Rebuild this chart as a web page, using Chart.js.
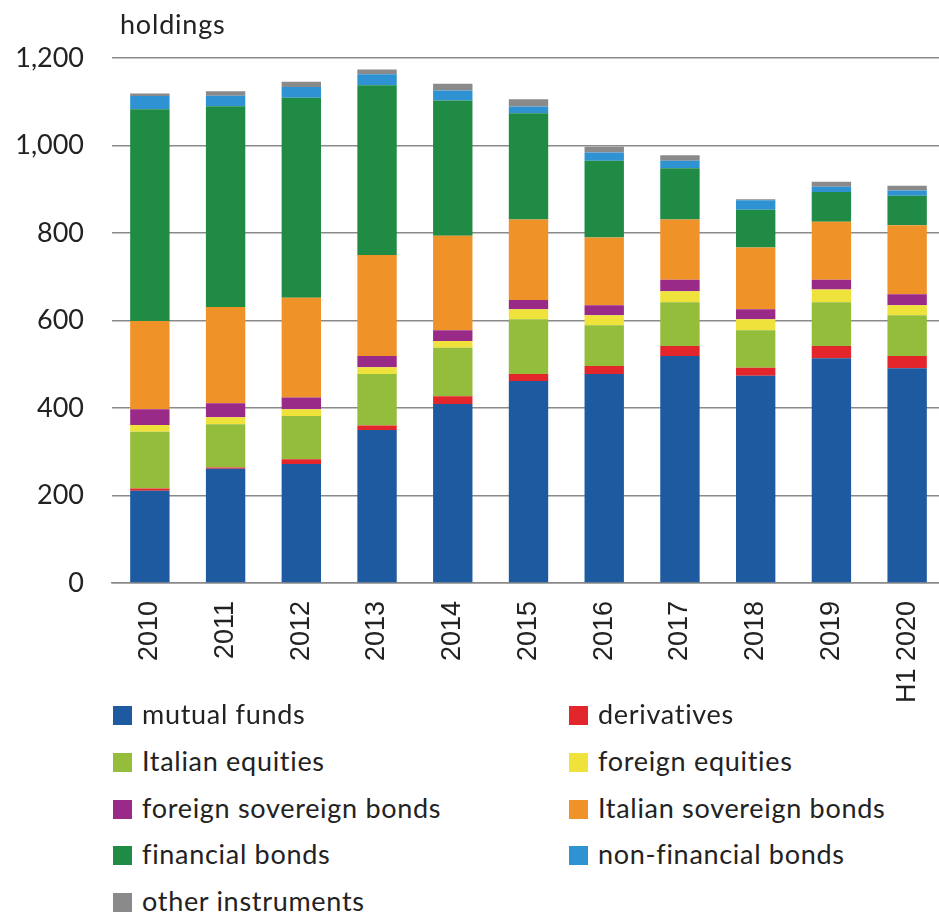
<!DOCTYPE html>
<html>
<head>
<meta charset="utf-8">
<script src="https://cdn.jsdelivr.net/npm/chart.js@4.4.1/dist/chart.umd.min.js"></script>
<style>
  html, body { margin: 0; padding: 0; background: #fff; overflow: hidden; }
  #wrap { position: relative; width: 939px; height: 913px; overflow: hidden; }
  #chart { position: absolute; left: 0; top: 0; }
  #legend { position: absolute; left: 0; top: 0; font-family: Lato, "Noto Sans", sans-serif; font-size: 27px; letter-spacing: 0.7px; color: #222; }
  .item { position: absolute; height: 30px; line-height: 30px; white-space: nowrap; }
  .item span.box { display: inline-block; width: 19px; height: 19px; vertical-align: middle; margin-right: 10px; position: relative; top: -2px; }
</style>
</head>
<body>
<div id="wrap">
  <canvas id="chart" width="950" height="710"></canvas>
  <div id="legend"></div>
</div>
<script>
const years = ['2010', '2011', '2012', '2013', '2014', '2015', '2016', '2017', '2018', '2019', 'H1 2020'];

// holdings by instrument, stacked from the bottom up
const mutualFunds      = [211, 261, 272, 350, 409, 462, 478, 519, 474, 514, 491];
const derivatives      = [5, 3, 11, 10, 18, 16, 18, 23, 18, 28, 28];
const italianEquities  = [130, 99, 99, 118, 111, 125, 93, 100, 86, 100, 93];
const foreignEquities  = [15, 16, 15, 15, 15, 23, 23, 25, 25, 29, 23];
const foreignSovereign = [36, 32, 27, 26, 25, 21, 23, 26, 23, 22, 25];
const italianSovereign = [202, 220, 228, 231, 216, 184, 155, 138, 141, 133, 158];
const financialBonds   = [484, 459, 457, 388, 309, 243, 175, 117, 86, 68, 67];
const nonFinancial     = [30, 24, 25, 25, 23, 15, 19, 17, 22, 12, 12];
const otherInstruments = [6, 10, 12, 11, 15, 17, 13, 13, 2, 11, 11];

const series = [
    { label: 'mutual funds', data: mutualFunds, color: '#1d5aa0' },
    { label: 'derivatives', data: derivatives, color: '#e2262b' },
    { label: 'Italian equities', data: italianEquities, color: '#93bd3b' },
    { label: 'foreign equities', data: foreignEquities, color: '#efe23a' },
    { label: 'foreign sovereign bonds', data: foreignSovereign, color: '#9a2a88' },
    { label: 'Italian sovereign bonds', data: italianSovereign, color: '#ef9228' },
    { label: 'financial bonds', data: financialBonds, color: '#1f8b45' },
    { label: 'non-financial bonds', data: nonFinancial, color: '#2f93d3' },
    { label: 'other instruments', data: otherInstruments, color: '#8a8a8a' }
];

// "holdings" unit label above the y axis
const unitLabel = {
    id: 'unitLabel',
    afterDraw(chart) {
        const ctx = chart.ctx;
        ctx.save();
        ctx.font = '27px Lato, "Noto Sans", sans-serif';
        ctx.letterSpacing = '0.8px';
        ctx.fillStyle = '#222';
        ctx.textAlign = 'left';
        ctx.textBaseline = 'alphabetic';
        ctx.fillText('holdings', 120, 34);
        ctx.restore();
    }
};

const chart = new Chart(document.getElementById('chart'), {
    type: 'bar',
    data: {
        labels: years,
        datasets: series.map(s => ({
            label: s.label,
            data: s.data,
            backgroundColor: s.color,
            borderWidth: 0,
            categoryPercentage: 1,
            barPercentage: 0.52
        }))
    },
    options: {
        responsive: false,
        animation: false,
        layout: { padding: { top: 58, right: 5, left: 0, bottom: 0 } },
        plugins: {
            legend: { display: false },
            tooltip: { enabled: false }
        },
        scales: {
            x: {
                stacked: true,
                grid: { display: false },
                border: { display: true, color: '#8a8a8a', width: 1.5 },
                ticks: {
                    autoSkip: false,
                    minRotation: 90,
                    maxRotation: 90,
                    padding: 10,
                    color: '#222',
                    font: { family: '"Liberation Sans", Arial, sans-serif', size: 27 }
                },
                afterFit(scale) { scale.height = 127; }
            },
            y: {
                stacked: true,
                min: 0,
                max: 1200,
                grid: { color: '#8a8a8a', lineWidth: 1.5, drawTicks: false },
                border: { display: false },
                ticks: {
                    stepSize: 200,
                    padding: 28,
                    color: '#222',
                    font: { family: 'Lato, "Noto Sans", sans-serif', size: 27 },
                    callback: v => v.toLocaleString('en-US')
                },
                afterFit(scale) { scale.width = 112; }
            }
        }
    },
    plugins: [unitLabel]
});

// two-column legend under the chart, in dataset order
const legend = document.getElementById('legend');
const colX = [113, 569];
const rowY = [714, 761, 808, 854, 901];
chart.data.datasets.forEach((ds, i) => {
    const item = document.createElement('div');
    item.className = 'item';
    item.style.left = colX[i % 2] + 'px';
    item.style.top = (rowY[Math.floor(i / 2)] - 15) + 'px';
    item.innerHTML = '<span class="box" style="background:' + ds.backgroundColor + '"></span>' + ds.label;
    legend.appendChild(item);
});
</script>
</body>
</html>
